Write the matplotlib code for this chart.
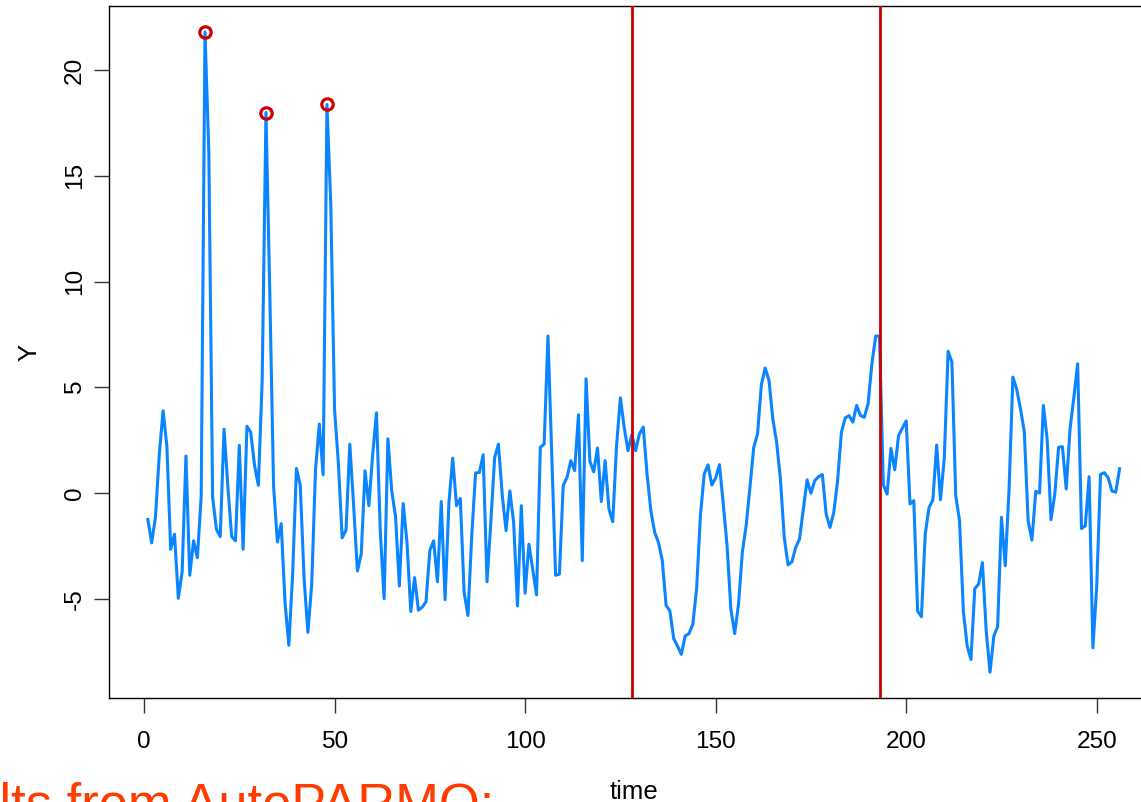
import numpy as np
import matplotlib
matplotlib.use('Agg')
import matplotlib.pyplot as plt

# ── series Y(t), t = 1..256, split at the detected change points ──────────────
seg_a = [  # t = 1..128
    -1.25, -2.36, -1.15, 1.81, 3.89, 2.21, -2.66, -1.95, -4.98, -3.73,
    1.75, -3.89, -2.26, -3.06, -0.14, 21.8, 16.12, -0.2, -1.72, -2.06,
    3.02, 0.3, -2.06, -2.26, 2.25, -2.66, 3.16, 2.87, 1.31, 0.36,
    5.28, 17.99, 9.5, 0.3, -2.32, -1.45, -5.18, -7.2, -3.83, 1.16,
    0.36, -4.03, -6.59, -4.33, 1.1, 3.26, 0.86, 18.37, 13.7, 3.93,
    1.4, -2.12, -1.76, 2.31, -0.6, -3.69, -2.88, 1.05, -0.6, 1.81,
    3.79, -1.82, -5.0, 2.56, 0.1, -1.11, -4.4, -0.5, -2.32, -5.6,
    -4.0, -5.54, -5.4, -5.14, -2.72, -2.26, -4.2, -0.4, -5.04, -0.5,
    1.65, -0.6, -0.26, -4.7, -5.79, -2.02, 0.95, 0.97, 1.81, -4.2,
    -1.41, 1.67, 2.31, -0.1, -1.78, 0.1, -1.41, -5.34, -0.6, -4.74,
    -2.42, -3.6, -4.82, 2.16, 2.32, 7.42, 1.8, -3.89, -3.84, 0.35,
    0.74, 1.53, 1.06, 3.7, -3.2, 5.4, 1.5, 1.0, 2.13, -0.4,
    1.53, -0.76, -1.36, 2.24, 4.5, 3.11, 2.0, 2.76,
]
seg_b = [  # t = 129..193
    2.0, 2.79,
    3.12, 0.9, -0.84, -1.86, -2.34, -3.2, -5.31, -5.58, -6.89, -7.24,
    -7.63, -6.76, -6.65, -6.21, -4.55, -1.08, 0.9, 1.33, 0.38, 0.71,
    1.34, -0.52, -2.5, -5.5, -6.65, -5.26, -2.81, -1.55, 0.27, 2.16,
    2.8, 5.12, 5.91, 5.32, 3.5, 2.4, 0.66, -2.1, -3.4, -3.26,
    -2.58, -2.18, -0.76, 0.62, -0.01, 0.58, 0.77, 0.87, -0.99, -1.63,
    -0.92, 0.58, 2.87, 3.55, 3.66, 3.35, 4.14, 3.66, 3.58, 4.22,
    6.11, 7.42, 7.42,
]
seg_c = [  # t = 194..256
    0.38, -0.05, 2.11, 1.1, 2.72, 3.06, 3.41,
    -0.52, -0.36, -5.58, -5.85, -1.94, -0.68, -0.33, 2.27, -0.32, 1.64,
    6.7, 6.19, -0.12, -1.31, -5.58, -7.23, -7.87, -4.52, -4.31, -3.29,
    -6.52, -8.47, -6.76, -6.32, -1.15, -3.44, 0.19, 5.48, 4.9, 3.98,
    2.88, -1.31, -2.23, 0.08, 0.0, 4.14, 2.53, -1.26, -0.05, 2.16,
    2.19, 0.19, 3.03, 4.53, 6.11, -1.68, -1.55, 0.77, -7.32, -4.4,
    0.88, 0.96, 0.72, 0.09, 0.04, 1.15,
]

change_points = [128, 193]
outlier_times = [16, 32, 48]
x_ticks = [0, 50, 100, 150, 200, 250]
y_ticks = [-5, 0, 5, 10, 15, 20]

y = np.array(seg_a + seg_b + seg_c)
t = np.arange(1, len(y) + 1)
out_idx = np.array(outlier_times) - 1

BLUE = '#0A84FF'
RED = '#CC0000'
ORANGE = '#FF3B00'


def padded(lo, hi, frac=0.04):
    d = (hi - lo) * frac
    return lo - d, hi + d


plt.rcParams['font.family'] = ['Liberation Sans', 'DejaVu Sans']
plt.rcParams['axes.unicode_minus'] = False

fig = plt.figure(figsize=(11.41, 8.02), dpi=100)
ax = fig.add_axes([0.0955, 0.1300, 0.9198, 0.8621])

ax.plot(t, y, color=BLUE, lw=2.2, solid_joinstyle='round', zorder=2)
ax.plot(t[out_idx], y[out_idx], 'o', mfc='none', mec=RED, ms=8.2, mew=2.3, zorder=3)
for cp in change_points:
    ax.axvline(cp, color=RED, lw=2.0, zorder=4)

ax.set_xlim(*padded(t.min(), t.max()))
ax.set_ylim(*padded(y.min(), y.max()))

ax.set_xticks(x_ticks)
ax.set_yticks(y_ticks)
ax.set_yticklabels([str(v) for v in y_ticks], rotation=90, va='center')
ax.tick_params(direction='out', length=10.5, width=1.0, labelsize=17.6, color='#333333')
ax.tick_params(axis='x', pad=13.5)
ax.tick_params(axis='y', pad=6)
for sp in ax.spines.values():
    sp.set_linewidth(1.0)

ax.set_xlabel('time', fontsize=18.5)
ax.set_ylabel('Y', fontsize=18.5)
ax.xaxis.label.set_va('baseline')
ax.xaxis.set_label_coords(0.5, -0.1465)
ax.yaxis.set_label_coords(-0.0648, 0.5)

# slide caption that runs under the plot
fig.text(0.4335, -0.023, 'Results from AutoPARMO:', color=ORANGE,
         fontsize=37.8, ha='right', va='baseline')

fig.savefig('out.png', dpi=100)
